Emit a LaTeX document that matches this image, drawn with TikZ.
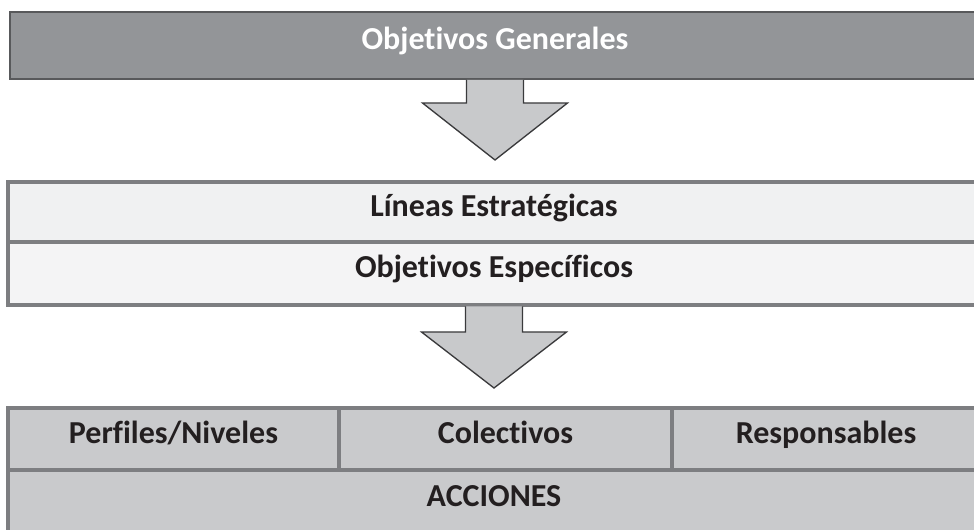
\documentclass[tikz,border=0pt]{standalone}
\usepackage{fontspec}
\setmainfont{Carlito}[Ligatures={CommonOff,ContextualOff}, Contextuals=AlternateOff]
\usetikzlibrary{positioning, calc}

\definecolor{genfill}{HTML}{939598}
\definecolor{genline}{HTML}{58595B}
\definecolor{midfill}{HTML}{F0F1F2}
\definecolor{midfilltwo}{HTML}{F4F4F5}
\definecolor{midline}{HTML}{7D7E81}
\definecolor{lowfill}{HTML}{C9CACC}
\definecolor{lowline}{HTML}{7D7E81}
\definecolor{arrfill}{HTML}{C8C9CB}
\definecolor{arrline}{HTML}{3A3A3C}
\definecolor{txtdark}{HTML}{231F20}

\begin{document}
\begin{tikzpicture}[x=0.75pt, y=-0.75pt,
    every node/.style={font=\fontsize{24}{28}\selectfont\bfseries, inner sep=0pt, outer sep=0pt,
        text=txtdark, text height=0.8em, text depth=0.15em},
    genbox/.style={draw=genline, fill=genfill, line width=1.6pt, text=white},
    midbox/.style={draw=midline, fill=midfill, line width=2.3pt},
    lowbox/.style={draw=lowline, fill=lowfill, line width=2.3pt},
    blockarrow/.style={draw=arrline, fill=arrfill, line width=1pt, line join=miter}
]

% one pixel of the reference
\def\pxl{0.75pt}

\clip (0,0) rectangle (974,530);

% Objetivos generales
\node[genbox, anchor=north west, minimum width=970*\pxl, minimum height=67*\pxl] (gen) at (10,12) {Objetivos Generales};

% Lineas / objetivos especificos
\node[midbox, anchor=north west, minimum width=972*\pxl, minimum height=60*\pxl] (lineas) at (8,182) {Líneas Estratégicas};
\node[midbox, fill=midfilltwo, below=0pt of lineas, minimum width=972*\pxl, minimum height=63*\pxl] (objesp) {Objetivos Específicos};

% Perfiles, colectivos, responsables, acciones
\node[lowbox, anchor=north west, minimum width=331*\pxl, minimum height=62*\pxl] (perf) at (8,408) {Perfiles/Niveles};
\node[lowbox, right=0pt of perf, minimum width=333*\pxl, minimum height=62*\pxl] (colec) {Colectivos};
\node[lowbox, right=0pt of colec, minimum width=308*\pxl, minimum height=62*\pxl] (resp) {Responsables};
\node[lowbox, anchor=north west, minimum width=972*\pxl, minimum height=64*\pxl] (acc) at (perf.south west) {ACCIONES};

% Block arrows
\draw[blockarrow] ($(gen.south)+(-28.5,1)$) -- ++(0,23) -- ++(-44,0) -- ($(gen.south)+(0,81)$)
    -- ($(gen.south)+(72.5,24)$) -- ++(-44,0) -- ++(0,-23);
\draw[blockarrow] ($(objesp.south)+(-28.5,1.5)$) -- ++(0,25.5) -- ++(-44,0) -- ($(objesp.south)+(0,83)$)
    -- ($(objesp.south)+(72.5,27)$) -- ++(-44,0) -- ++(0,-25.5);

\end{tikzpicture}
\end{document}
